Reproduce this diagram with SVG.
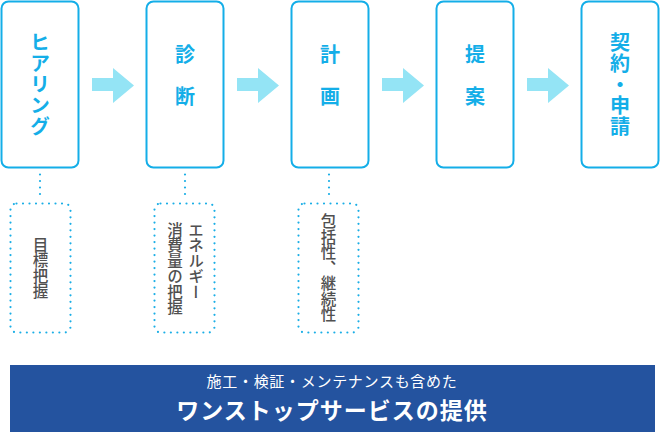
<svg xmlns="http://www.w3.org/2000/svg" width="660" height="432" viewBox="0 0 660 432">
<style>
.box{fill:#fff;stroke:#14aee8;stroke-width:2}
.dbox{fill:none;stroke:#1aaee6;stroke-width:2.2;stroke-dasharray:0 6.5;stroke-linecap:round}
.arrow{fill:#94e4f5}
.t{font-family:"Noto Sans CJK JP","Noto Sans",sans-serif;font-weight:700;font-size:20px;fill:#14aee8;writing-mode:vertical-rl;text-anchor:middle}
.s{font-family:"Noto Sans CJK JP","Noto Sans",sans-serif;font-weight:500;font-size:15.5px;fill:#505050;writing-mode:vertical-rl}
.w{font-family:"Noto Sans CJK JP","Noto Sans",sans-serif;fill:#fff;text-anchor:middle}
</style>
<g id="connectors">
<polygon class="arrow" points="92,78 113,78 113,68 134,85.5 113,103 113,91 92,91"/>
<polygon class="arrow" points="237,78 258,78 258,68 279,85.5 258,103 258,91 237,91"/>
<polygon class="arrow" points="382,78 403,78 403,68 424,85.5 403,103 403,91 382,91"/>
<polygon class="arrow" points="527,78 548,78 548,68 569,85.5 548,103 548,91 527,91"/>
<line class="dbox" x1="40" y1="174.5" x2="40" y2="197"/>
<line class="dbox" x1="185" y1="174.5" x2="185" y2="197"/>
<line class="dbox" x1="329" y1="174.5" x2="329" y2="197"/>
</g>
<g id="node-hearing">
<rect class="box" x="1.5" y="1.5" width="77" height="166" rx="7"/>
<text class="t" x="40" y="85" style="letter-spacing:1px">ヒアリング</text>
</g>
<g id="node-shindan">
<rect class="box" x="146.5" y="1.5" width="77" height="166" rx="7"/>
<text class="t" x="185" y="86" style="letter-spacing:22px">診断</text>
</g>
<g id="node-keikaku">
<rect class="box" x="291.5" y="1.5" width="77" height="166" rx="7"/>
<text class="t" x="330" y="86" style="letter-spacing:22px">計画</text>
</g>
<g id="node-teian">
<rect class="box" x="436.5" y="1.5" width="77" height="166" rx="7"/>
<text class="t" x="475" y="86" style="letter-spacing:22px">提案</text>
</g>
<g id="node-keiyaku">
<rect class="box" x="581.5" y="1.5" width="77" height="166" rx="7"/>
<text class="t" x="620" y="85" style="letter-spacing:1px">契約・申請</text>
</g>
<g id="note-mokuhyo">
<rect class="dbox" x="10.5" y="203.5" width="60" height="129" rx="6"/>
<text class="s" x="40.5" y="268" text-anchor="middle">目標把握</text>
</g>
<g id="note-energy">
<rect class="dbox" x="154.5" y="203.5" width="60" height="129" rx="6"/>
<text class="s" x="196" y="222">エネルギー</text>
<text class="s" x="175" y="222">消費量の把握</text>
</g>
<g id="note-hokatsu">
<rect class="dbox" x="298.5" y="203.5" width="60" height="129" rx="6"/>
<text class="s" x="328.5" y="268" text-anchor="middle">包括性、継続性</text>
</g>
<g id="banner">
<rect x="10" y="365" width="645" height="67" fill="#24539f"/>
<text class="w" x="332" y="387" font-size="15" style="letter-spacing:0.7px">施工・検証・メンテナンスも含めた</text>
<text class="w" x="332" y="419" font-size="23" font-weight="700" style="letter-spacing:1px">ワンストップサービスの提供</text>
</g>
</svg>
